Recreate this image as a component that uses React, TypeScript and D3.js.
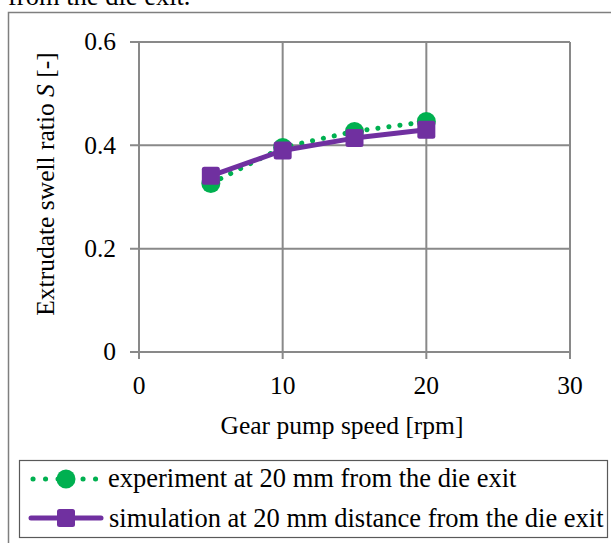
import React from "react";
import * as d3 from "d3";

const speeds = [5, 10, 15, 20];
const experiment = [0.326, 0.396, 0.427, 0.446];
const simulation = [0.341, 0.39, 0.414, 0.43];
const xTicks = [0, 10, 20, 30];
const yTicks = [0, 0.2, 0.4, 0.6];
const legendLabels = [
  "experiment at 20 mm from the die exit",
  "simulation at 20 mm distance from the die exit",
];

const GREEN = "#00b050";
const PURPLE = "#7030a0";
const GRID = "#898989";
const FONT = "'Liberation Serif', 'Times New Roman', serif";

export default function App() {
  const W = 611, H = 543;
  const x = d3.scaleLinear().domain([0, 30]).range([139, 570]);
  const y = d3.scaleLinear().domain([0, 0.6]).range([352, 42]);
  const line = d3
    .line<number>()
    .x((_, i) => x(speeds[i]))
    .y((d) => y(d));

  return (
    <svg
      width={W}
      height={H}
      style={{ position: "absolute", left: 0, top: 0, background: "#fff" }}
      fontFamily={FONT}
    >
      <text x={8} y={5} fontSize={26.5} fill="#000">from the die exit.</text>
      <rect x={8.5} y={12.5} width={640} height={600} fill="none" stroke="#7f7f7f" strokeWidth={1.5} />

      {/* grid */}
      {yTicks.map((t) => (
        <g key={"y" + t}>
          <line x1={130} x2={x(30)} y1={y(t)} y2={y(t)} stroke={GRID} strokeWidth={2} />
          <text x={116} y={y(t)} dy="0.33em" textAnchor="end" fontSize={25.5}>
            {t === 0 ? "0" : t.toFixed(1)}
          </text>
        </g>
      ))}
      {xTicks.map((t) => (
        <g key={"x" + t}>
          <line x1={x(t)} x2={x(t)} y1={y(0.6)} y2={y(0) + 7} stroke={GRID} strokeWidth={2} />
          <text x={x(t)} y={394} textAnchor="middle" fontSize={25.5}>
            {t}
          </text>
        </g>
      ))}

      <text x={342} y={434} textAnchor="middle" fontSize={25.5}>
        Gear pump speed [rpm]
      </text>
      <text
        transform={`translate(54, 184) rotate(-90)`}
        textAnchor="middle"
        fontSize={25.5}
      >
        Extrudate swell ratio <tspan fontStyle="italic">S</tspan> [-]
      </text>

      {/* experiment series */}
      <path
        d={line(experiment) || ""}
        fill="none"
        stroke={GREEN}
        strokeWidth={5}
        strokeDasharray="0.1 11"
        strokeLinecap="round"
      />
      {experiment.map((v, i) => (
        <circle key={"e" + i} cx={x(speeds[i])} cy={y(v)} r={9.5} fill={GREEN} />
      ))}

      {/* simulation series */}
      <path d={line(simulation) || ""} fill="none" stroke={PURPLE} strokeWidth={5} strokeLinejoin="round" />
      {simulation.map((v, i) => (
        <rect
          key={"s" + i}
          x={x(speeds[i]) - 9}
          y={y(v) - 9}
          width={18}
          height={18}
          rx={2.5}
          fill={PURPLE}
        />
      ))}

      {/* legend */}
      <rect x={19.5} y={460.5} width={588} height={77} fill="#fff" stroke="#595959" strokeWidth={1.2} />
      <line x1={33} x2={96} y1={479} y2={479} stroke={GREEN} strokeWidth={5} strokeDasharray="0.1 12.4" strokeLinecap="round" />
      <circle cx={66} cy={479} r={9.5} fill={GREEN} />
      <text x={108} y={487} fontSize={26.5}>{legendLabels[0]}</text>
      <line x1={31} x2={101} y1={518} y2={518} stroke={PURPLE} strokeWidth={5} strokeLinecap="round" />
      <rect x={57} y={509} width={18} height={18} rx={2.5} fill={PURPLE} />
      <text x={109} y={527} fontSize={26.5}>{legendLabels[1]}</text>
    </svg>
  );
}
